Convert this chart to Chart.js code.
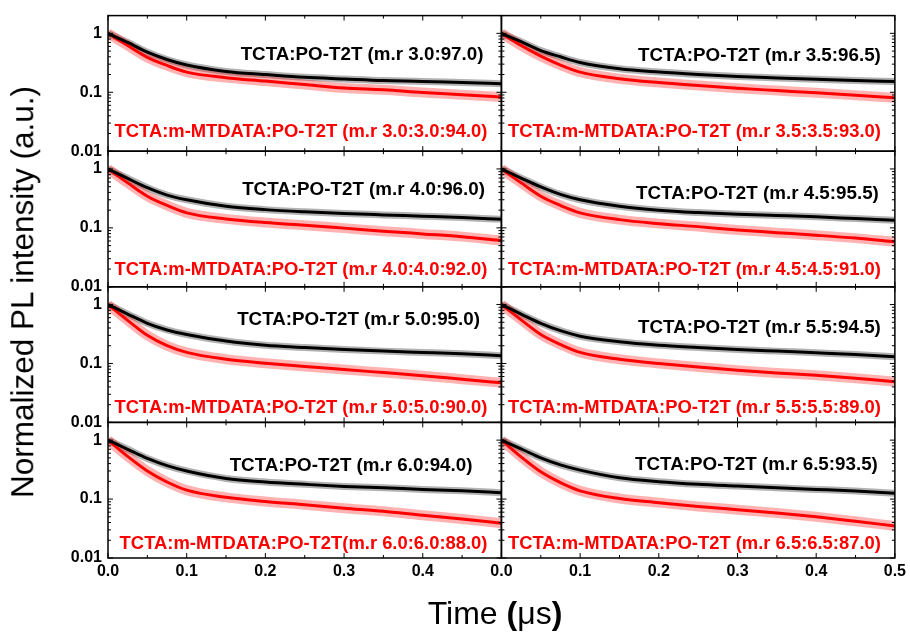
<!DOCTYPE html>
<html>
<head>
<meta charset="utf-8">
<script src="https://cdn.jsdelivr.net/npm/chart.js@4.4.0/dist/chart.umd.min.js"></script>
<style>
  body { margin: 0; background: #fff; }
  #wrap { position: relative; width: 910px; height: 632px; }
  #decayChart { position: absolute; left: 0; top: 0; }
  #yTitle { position: absolute; left: 23px; top: 292px; transform: translate(-50%, -50%) rotate(-90deg);
            white-space: nowrap; font: 31.5px "Liberation Sans", Arial, sans-serif; line-height: 1; }
  #xTitle { position: absolute; left: 495px; top: 597px; transform: translateX(-50%);
            white-space: nowrap; font: 32px "Liberation Sans", Arial, sans-serif; line-height: 1; }
</style>
</head>
<body>
<div id="wrap">
  <canvas id="decayChart" width="910" height="632"></canvas>
  <div id="yTitle">Normalized PL intensity (a.u.)</div>
  <div id="xTitle">Time <b>(</b>μs<b>)</b></div>
</div>

<script>
var timeUs = [0, 0.025, 0.05, 0.075, 0.1, 0.15, 0.2, 0.25, 0.3, 0.35, 0.4, 0.45, 0.5];

var blackDecay = [
	[1, 0.70, 0.48, 0.36, 0.29, 0.226, 0.200, 0.179, 0.168, 0.158, 0.153, 0.146, 0.140],
	[1, 0.72, 0.51, 0.40, 0.32, 0.250, 0.220, 0.200, 0.185, 0.175, 0.166, 0.158, 0.152],
	[1, 0.69, 0.48, 0.36, 0.30, 0.233, 0.204, 0.187, 0.175, 0.166, 0.158, 0.150, 0.140],
	[1, 0.70, 0.495, 0.37, 0.30, 0.233, 0.200, 0.182, 0.170, 0.162, 0.154, 0.144, 0.135],
	[1, 0.69, 0.48, 0.37, 0.31, 0.240, 0.204, 0.187, 0.173, 0.162, 0.154, 0.146, 0.135],
	[1, 0.69, 0.48, 0.36, 0.29, 0.233, 0.204, 0.187, 0.173, 0.162, 0.152, 0.142, 0.130],
	[1, 0.70, 0.49, 0.37, 0.30, 0.224, 0.195, 0.178, 0.164, 0.155, 0.146, 0.138, 0.128],
	[1, 0.71, 0.50, 0.38, 0.31, 0.230, 0.197, 0.178, 0.166, 0.155, 0.146, 0.137, 0.125]
];

var redDecay = [
	[1, 0.62, 0.39, 0.285, 0.22, 0.177, 0.155, 0.135, 0.118, 0.110, 0.099, 0.091, 0.083],
	[1, 0.62, 0.41, 0.29, 0.22, 0.170, 0.146, 0.130, 0.117, 0.107, 0.098, 0.089, 0.081],
	[1, 0.58, 0.344, 0.24, 0.18, 0.142, 0.123, 0.111, 0.099, 0.088, 0.079, 0.071, 0.061],
	[1, 0.58, 0.344, 0.24, 0.18, 0.138, 0.118, 0.105, 0.092, 0.083, 0.075, 0.067, 0.058],
	[1, 0.54, 0.30, 0.20, 0.154, 0.118, 0.101, 0.089, 0.079, 0.070, 0.062, 0.054, 0.047],
	[1, 0.55, 0.31, 0.21, 0.154, 0.118, 0.100, 0.087, 0.077, 0.069, 0.063, 0.056, 0.049],
	[1, 0.53, 0.30, 0.195, 0.142, 0.107, 0.091, 0.080, 0.070, 0.062, 0.053, 0.046, 0.039],
	[1, 0.52, 0.29, 0.19, 0.138, 0.102, 0.087, 0.075, 0.066, 0.058, 0.050, 0.042, 0.035]
];

var blackLabels = [
	"TCTA:PO-T2T (m.r 3.0:97.0)", "TCTA:PO-T2T (m.r 3.5:96.5)",
	"TCTA:PO-T2T (m.r 4.0:96.0)", "TCTA:PO-T2T (m.r 4.5:95.5)",
	"TCTA:PO-T2T (m.r 5.0:95.0)", "TCTA:PO-T2T (m.r 5.5:94.5)",
	"TCTA:PO-T2T (m.r 6.0:94.0)", "TCTA:PO-T2T (m.r 6.5:93.5)"
];
var redLabels = [
	"TCTA:m-MTDATA:PO-T2T (m.r 3.0:3.0:94.0)", "TCTA:m-MTDATA:PO-T2T (m.r 3.5:3.5:93.0)",
	"TCTA:m-MTDATA:PO-T2T (m.r 4.0:4.0:92.0)", "TCTA:m-MTDATA:PO-T2T (m.r 4.5:4.5:91.0)",
	"TCTA:m-MTDATA:PO-T2T (m.r 5.0:5.0:90.0)", "TCTA:m-MTDATA:PO-T2T (m.r 5.5:5.5:89.0)",
	"TCTA:m-MTDATA:PO-T2T(m.r 6.0:6.0:88.0)", "TCTA:m-MTDATA:PO-T2T (m.r 6.5:6.5:87.0)"
];

var xTickValues = [0, 0.1, 0.2, 0.3, 0.4, 0.5];
var yTickValues = [0.01, 0.1, 1];

// label placement inside each panel: [inset from right, baseline below top] / baseline above bottom
var blackSpot = [[18, 44], [14, 45], [16.5, 44], [16, 47.5], [21.5, 38], [14, 46.5], [29, 49], [17, 48]];
var redSpot = [14, 14, 12, 12, 9.5, 9.5, 9, 9];

var FONT = '"Liberation Sans", Arial, sans-serif';
Chart.defaults.font.family = FONT;
Chart.defaults.color = '#000';

function toPoints(arr) {
	return timeUs.map(function(t, i) { return {x: t, y: arr[i]}; });
}

var datasets = [];
for (var p = 0; p < 8; p++) {
	var xa = 'x' + (p % 2), ya = 'y' + Math.floor(p / 2);
	// wide pale band stands in for the scattered raw counts, thin line is the fit
	datasets.push({data: toPoints(blackDecay[p]), xAxisID: xa, yAxisID: ya, borderColor: 'rgba(0,0,0,0.3)', borderWidth: 7, order: 3});
	datasets.push({data: toPoints(redDecay[p]), xAxisID: xa, yAxisID: ya, borderColor: 'rgba(255,0,0,0.3)', borderWidth: 10, order: 2});
	datasets.push({data: toPoints(redDecay[p]), xAxisID: xa, yAxisID: ya, borderColor: '#ff0000', borderWidth: 3, order: 1});
	datasets.push({data: toPoints(blackDecay[p]), xAxisID: xa, yAxisID: ya, borderColor: '#000000', borderWidth: 3, order: 0});
}

var scales = {};
for (var c = 0; c < 2; c++) {
	scales['x' + c] = {
		type: 'linear', axis: 'x', position: 'bottom', stack: 'cols', weight: c,
		min: 0, max: 0.5,
		grid: {display: false, drawTicks: false}, border: {display: false},
		afterBuildTicks: function(s) { s.ticks = xTickValues.map(function(v) { return {value: v}; }); },
		afterFit: function(s) { s.height = 74; },
		ticks: {
			padding: 4, font: {size: 16, weight: 'bold'}, maxRotation: 0, autoSkip: false,
			callback: (function(col) {
				return function(v) { return (col === 0 && v > 0.49) ? '' : v.toFixed(1); };
			})(c)
		}
	};
}
for (var r = 0; r < 4; r++) {
	scales['y' + r] = {
		type: 'logarithmic', axis: 'y', position: 'left', stack: 'rows', weight: 4 - r,
		min: 0.01, max: 2,
		grid: {display: false, drawTicks: false}, border: {display: false},
		afterBuildTicks: function(s) { s.ticks = yTickValues.map(function(v) { return {value: v}; }); },
		afterFit: function(s) { s.width = 108; },
		ticks: {padding: 6, font: {size: 16, weight: 'bold'}, autoSkip: false, callback: function(v) { return String(v); }}
	};
}

var panelFrames = {
	id: 'panelFrames',
	afterDatasetsDraw: function(chart) {
		var ctx = chart.ctx;
		ctx.save();
		for (var p = 0; p < 8; p++) {
			var xs = chart.scales['x' + (p % 2)];
			var ys = chart.scales['y' + Math.floor(p / 2)];
			var l = xs.left, rt = xs.right, t = ys.top, b = ys.bottom;

			ctx.strokeStyle = '#000';
			ctx.lineWidth = 1.5;
			ctx.strokeRect(l, t, rt - l, b - t);

			// inward ticks on all four sides
			ctx.lineWidth = 1;
			ctx.beginPath();
			for (var k = 0; k <= 10; k++) {
				var px = xs.getPixelForValue(k * 0.05);
				var len = (k % 2) ? 3 : 5;
				ctx.moveTo(px, b); ctx.lineTo(px, b - len);
				ctx.moveTo(px, t); ctx.lineTo(px, t + len);
			}
			[0.01, 0.1, 1].forEach(function(dec) {
				for (var m = 1; m < 10; m++) {
					var val = dec * m;
					if (val > 2) break;
					var py = ys.getPixelForValue(val);
					var ln = (m === 1) ? 5 : 3;
					ctx.moveTo(l, py); ctx.lineTo(l + ln, py);
					ctx.moveTo(rt, py); ctx.lineTo(rt - ln, py);
				}
			});
			ctx.stroke();

			ctx.textAlign = 'right';
			ctx.textBaseline = 'alphabetic';
			ctx.fillStyle = '#000';
			ctx.font = 'bold 18.8px ' + FONT;
			ctx.fillText(blackLabels[p], rt - blackSpot[p][0], t + blackSpot[p][1]);
			ctx.fillStyle = '#ff0000';
			ctx.font = 'bold 18.4px ' + FONT;
			ctx.fillText(redLabels[p], rt - 14, b - redSpot[p]);
		}
		ctx.restore();
	}
};

new Chart(document.getElementById('decayChart'), {
	type: 'line',
	data: {datasets: datasets},
	options: {
		responsive: false,
		animation: false,
		layout: {padding: {left: 0, top: 13, right: 14, bottom: 0}},
		elements: {point: {radius: 0}, line: {cubicInterpolationMode: 'monotone'}},
		plugins: {legend: {display: false}, tooltip: {enabled: false}},
		scales: scales
	},
	plugins: [panelFrames]
});
</script>
</body>
</html>
